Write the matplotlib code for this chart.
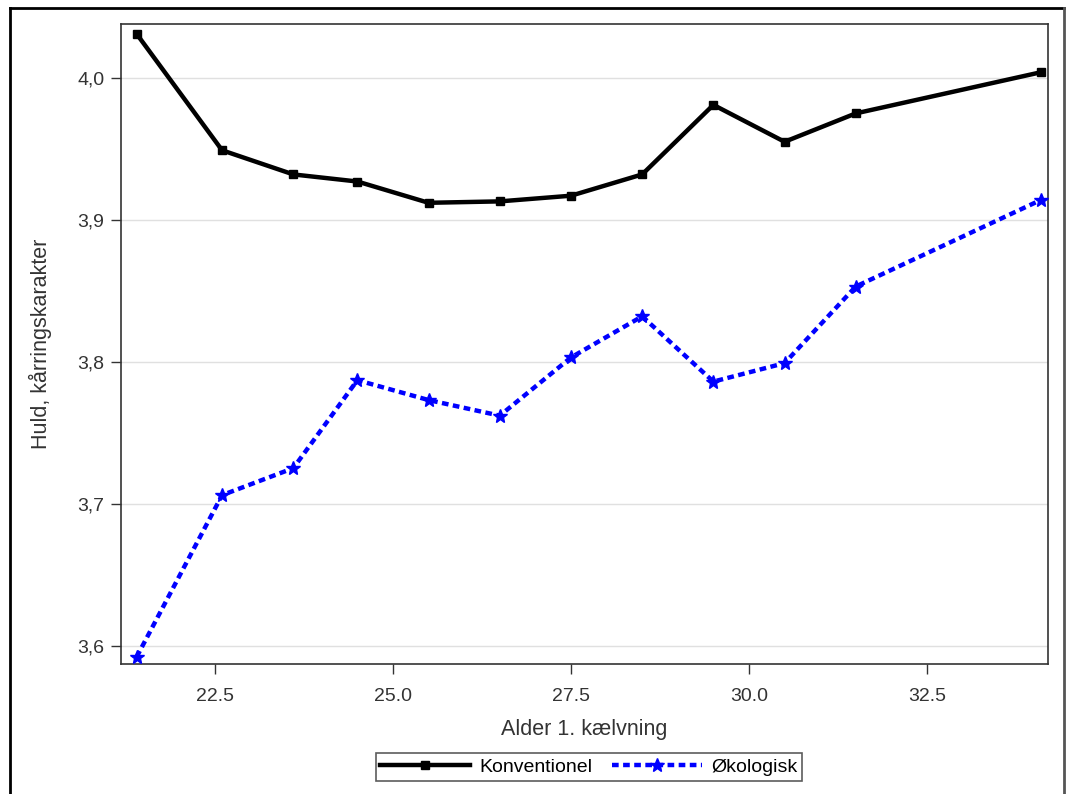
import matplotlib
matplotlib.use("Agg")
import matplotlib.pyplot as plt
from matplotlib.lines import Line2D

plt.rcParams['font.family'] = ['Liberation Sans', 'DejaVu Sans']

alder = [21.4, 22.6, 23.6, 24.5, 25.5, 26.5, 27.5, 28.5, 29.5, 30.5, 31.5, 34.1]
konventionel = [4.031, 3.949, 3.932, 3.927, 3.912, 3.913, 3.917, 3.932, 3.981, 3.955, 3.975, 4.004]
okologisk = [3.592, 3.706, 3.725, 3.787, 3.773, 3.762, 3.803, 3.832, 3.786, 3.799, 3.853, 3.914]
xticks = [22.5, 25.0, 27.5, 30.0, 32.5]
yticks = [3.6, 3.7, 3.8, 3.9, 4.0]

BLUE = '#0000ff'
DASH = (0, (1.5, 1.0))

fig = plt.figure(figsize=(10.66, 7.94), dpi=100)
ax = fig.add_axes([121/1066, 1-664/794, (1048-121)/1066, (664-24)/794])

ax.plot(alder, konventionel, color='black', lw=3.2, marker='s', ms=6,
        label='Konventionel', zorder=3)
ax.plot(alder, okologisk, color=BLUE, lw=3.2, ls=DASH, marker='*', ms=10,
        mfc=BLUE, mec=BLUE, label='Økologisk', zorder=3)

ax.set_xlim(21.18, 34.2)
ax.set_ylim(3.587, 4.038)
ax.set_xticks(xticks)
ax.set_xticklabels([f"{v:.1f}" for v in xticks])
ax.set_yticks(yticks)
ax.set_yticklabels([f"{v:.1f}".replace('.', ',') for v in yticks])
ax.yaxis.grid(True, color='#e0e0e0', lw=1)
ax.set_axisbelow(True)
for s in ax.spines.values():
    s.set_color('#333333')
    s.set_linewidth(1.2)
ax.tick_params(axis='both', length=7, width=1, color='#333333', labelsize=14,
               labelcolor='#333333')
ax.tick_params(axis='x', pad=10)
ax.tick_params(axis='y', pad=5)
ax.set_xlabel('Alder 1. kælvning', fontsize=15.5, color='#333333', labelpad=10)
ax.set_ylabel('Huld, kårringskarakter', fontsize=15.5, color='#333333', labelpad=18)

handles = [Line2D([0], [0], color='black', lw=3.2, marker='s', ms=6),
           Line2D([0], [0], color=BLUE, lw=3.2, ls=DASH, marker='*', ms=10,
                  mfc=BLUE, mec=BLUE)]
leg = fig.legend(handles, ['Konventionel', 'Økologisk'], loc='center',
                 bbox_to_anchor=(589/1066, 1-767/794), ncol=2, frameon=True,
                 fancybox=False, edgecolor='#333333', fontsize=14, handlelength=4.6,
                 columnspacing=1.0, handletextpad=0.5, borderpad=0.25,
                 borderaxespad=0.2)
leg.get_frame().set_linewidth(1.2)

# outer border
fig.add_artist(Line2D([10/1066, 10/1066], [0, 1-8/794], color='black', lw=2, transform=fig.transFigure))
fig.add_artist(Line2D([10/1066, 1064/1066], [1-8/794, 1-8/794], color='black', lw=2, transform=fig.transFigure))
fig.add_artist(Line2D([1064/1066, 1064/1066], [0, 1-8/794], color='#555555', lw=2, transform=fig.transFigure))

fig.savefig('out.png', dpi=100)
